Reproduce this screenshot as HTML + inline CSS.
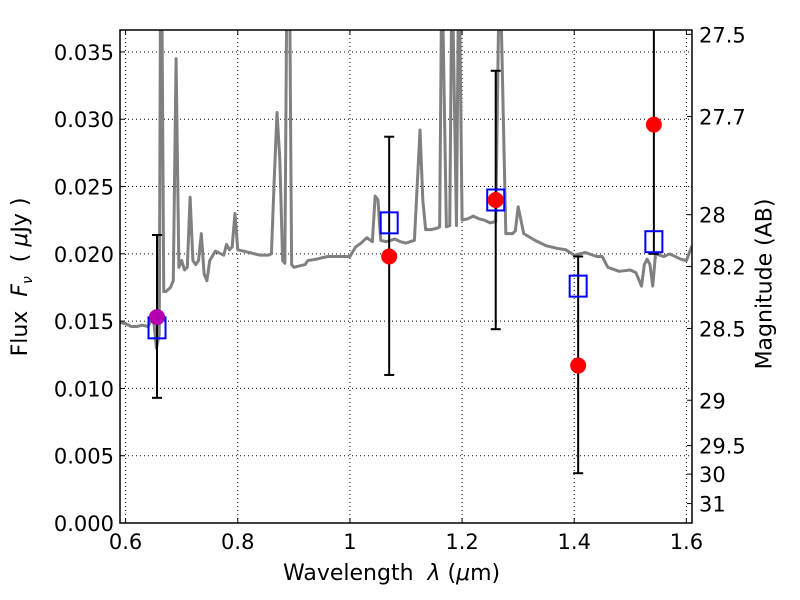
<!DOCTYPE html>
<html><head><meta charset="utf-8"><style>
body{margin:0;background:#fff}
svg{display:block;font-family:"DejaVu Sans","Liberation Sans",sans-serif}
</style></head><body>
<svg id="chart" width="800" height="600">
<rect width="800" height="600" fill="#fff"/>
<g id="grid"></g>
<g id="spec"></g>
<g id="marks"></g>
<g id="axes"></g>
</svg>
<script>
const xTicks=[0.6,0.8,1,1.2,1.4,1.6];
const xTickLabels=["0.6","0.8","1","1.2","1.4","1.6"];
const yTicks=[0,0.005,0.01,0.015,0.02,0.025,0.03,0.035];
const yTickLabels=["0.000","0.005","0.010","0.015","0.020","0.025","0.030","0.035"];
const magTicks=[27.5,27.7,28,28.2,28.5,29,29.5,30,31];
const magLabels=["27.5","27.7","28","28.2","28.5","29","29.5","30","31"];
const specWave=[0.59,0.60,0.61,0.62,0.63,0.64,0.645,0.65,0.655,0.66,0.662,0.665,0.668,0.672,0.68,0.685,0.69,0.695,0.70,0.705,0.71,0.715,0.72,0.725,0.73,0.735,0.74,0.745,0.75,0.76,0.77,0.775,0.78,0.785,0.79,0.795,0.80,0.82,0.84,0.855,0.86,0.865,0.87,0.875,0.88,0.884,0.887,0.893,0.896,0.90,0.92,0.925,0.94,0.96,0.98,1.0,1.01,1.02,1.03,1.04,1.045,1.05,1.055,1.065,1.08,1.09,1.10,1.115,1.125,1.13,1.135,1.145,1.155,1.16,1.163,1.166,1.172,1.178,1.181,1.184,1.19,1.193,1.196,1.20,1.21,1.22,1.23,1.24,1.25,1.26,1.265,1.27,1.278,1.29,1.295,1.30,1.305,1.31,1.33,1.35,1.37,1.385,1.40,1.42,1.44,1.45,1.46,1.48,1.50,1.51,1.52,1.525,1.53,1.535,1.54,1.545,1.56,1.57,1.59,1.60,1.61];
const specFlux=[0.0149,0.0148,0.0146,0.0146,0.0147,0.0146,0.0150,0.0151,0.0130,0.0140,0.037,0.037,0.0172,0.0172,0.0175,0.0180,0.0345,0.0190,0.0195,0.0188,0.0190,0.0242,0.0195,0.0192,0.0195,0.0215,0.0185,0.0180,0.0195,0.0202,0.0200,0.0199,0.0207,0.0203,0.0205,0.0230,0.0203,0.0201,0.0199,0.0199,0.0200,0.0255,0.0305,0.0270,0.0195,0.0193,0.037,0.037,0.0192,0.0190,0.0192,0.0195,0.0196,0.0198,0.0198,0.0198,0.0205,0.0208,0.0212,0.0209,0.0243,0.0240,0.0210,0.0209,0.0211,0.0209,0.0208,0.0210,0.0292,0.0240,0.0218,0.0218,0.0219,0.0220,0.037,0.037,0.0220,0.0221,0.037,0.037,0.0221,0.037,0.037,0.0225,0.0226,0.0228,0.0226,0.0225,0.0223,0.0224,0.037,0.037,0.0215,0.0215,0.0217,0.0235,0.0225,0.0215,0.0210,0.0206,0.0204,0.0203,0.0199,0.0201,0.0198,0.0198,0.0190,0.0187,0.0188,0.0186,0.0176,0.0192,0.0196,0.0192,0.0176,0.0200,0.0198,0.0200,0.0196,0.0195,0.0206];
const photWave=[0.656,1.070,1.260,1.407,1.542];
const photFlux=[0.0153,0.0198,0.0240,0.0117,0.0296];
const photColor=["#b000b0","red","red","red","red"];
const modelFlux=[0.0145,0.0223,0.0240,0.0176,0.0209];
const errLow=[0.0093,0.0110,0.0144,0.0037,0.0200];
const errHigh=[0.0214,0.0287,0.0336,0.0198,0.0400];

const L=120,R=692,T=30,B=523,X0=0.59,X1=1.61,Y0=0,Y1=0.03663;
const X=v=>L+(v-X0)/(X1-X0)*(R-L);
const Y=v=>B-(v-Y0)/(Y1-Y0)*(B-T);
const NS="http://www.w3.org/2000/svg";
function mk(p,t,a){const e=document.createElementNS(NS,t);for(const k in a)e.setAttribute(k,a[k]);p.appendChild(e);return e;}
const svg=document.getElementById('chart');
const grid=document.getElementById('grid'),spec=document.getElementById('spec'),marks=document.getElementById('marks'),axes=document.getElementById('axes');
const defs=mk(svg,'defs',{});
const cp=mk(defs,'clipPath',{id:'clip'});mk(cp,'rect',{x:L,y:T,width:R-L,height:B-T});
spec.setAttribute('clip-path','url(#clip)');marks.setAttribute('clip-path','url(#clip)');

xTicks.forEach((v,i)=>{
 const g=mk(grid,'line',{x1:X(v),x2:X(v),y1:T,y2:B,stroke:'#000','stroke-width':1,'stroke-dasharray':'1,3'});
 
 mk(axes,'line',{x1:X(v),x2:X(v),y1:B,y2:B-5,stroke:'#000'});
 mk(axes,'line',{x1:X(v),x2:X(v),y1:T,y2:T+5,stroke:'#000'});
 const t=mk(axes,'text',{x:X(v),y:B+26,'text-anchor':'middle','font-size':21});t.textContent=xTickLabels[i];
 
});
yTicks.forEach((v,i)=>{
 if(v>0){const g=mk(grid,'line',{x1:L,x2:R,y1:Y(v),y2:Y(v),stroke:'#000','stroke-width':1,'stroke-dasharray':'1,3'});
 }
 mk(axes,'line',{x1:L,x2:L+5,y1:Y(v),y2:Y(v),stroke:'#000'});
 const t=mk(axes,'text',{x:L-6,y:Y(v)+8,'text-anchor':'end','font-size':21});t.textContent=yTickLabels[i];
 
});
magTicks.forEach((m,i)=>{
 const f=Math.pow(10,(23.9-m)/2.5);const y=Y(f);
 mk(axes,'line',{x1:R,x2:R-5,y1:y,y2:y,stroke:'#000'});
 const t=mk(axes,'text',{x:R+7,y:y+8,'font-size':21});t.textContent=magLabels[i];
 
});
const pl=mk(spec,'polyline',{points:specWave.map((w,i)=>X(w)+','+Y(specFlux[i])).join(' '),fill:'none',stroke:'#808080','stroke-width':3,'stroke-linejoin':'round'});


photWave.forEach((w,i)=>{
 const x=X(w);
 const e=mk(marks,'line',{x1:x,x2:x,y1:Y(errLow[i]),y2:Y(errHigh[i]),stroke:'#000','stroke-width':2});
 
 [errLow[i],errHigh[i]].forEach(v=>mk(marks,'line',{x1:x-5,x2:x+5,y1:Y(v),y2:Y(v),stroke:'#000','stroke-width':2}));
 const s=mk(marks,'rect',{x:x-8.5,y:Y(modelFlux[i])-10.5,width:17,height:21,fill:'none',stroke:'#0000ff','stroke-width':2});
 
 const c=mk(marks,'circle',{cx:x,cy:Y(photFlux[i]),r:8,fill:photColor[i]});
 
});
const fr=mk(axes,'rect',{x:L,y:T,width:R-L,height:B-T,fill:'none',stroke:'#000','stroke-width':1.5});

</script>
<div style="position:absolute;left:0;top:0;width:800px;height:600px;pointer-events:none;font-family:'DejaVu Sans','Liberation Sans',sans-serif">
<div style="position:absolute;left:283px;top:561px;font-size:22px;white-space:nowrap">Wavelength&nbsp; <i>λ</i> (<i>μ</i>m)</div>
<div style="position:absolute;left:22px;top:277px;font-size:22px;white-space:nowrap;transform:translate(-50%,-50%) rotate(-90deg);transform-origin:center">Flux&nbsp; <i>F<sub style="font-size:14px">ν</sub></i>&nbsp; ( <i>μ</i>Jy )</div>
<div style="position:absolute;left:765px;top:284px;font-size:22px;white-space:nowrap;transform:translate(-50%,-50%) rotate(-90deg);transform-origin:center">Magnitude (AB)</div>
</div>
</body></html>
